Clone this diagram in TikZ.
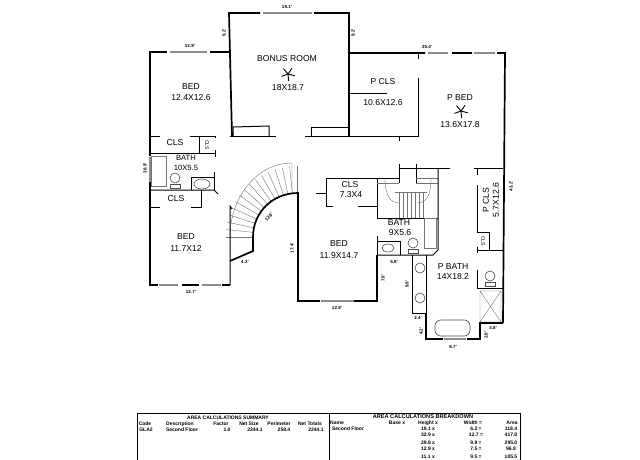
\documentclass[tikz,border=0pt]{standalone}
\usepackage{fontspec}
\setmainfont{Liberation Sans}
\newcommand{\ceilfan}[1]{\foreach \a in {15,85,160,230,305} \draw[fanblade] (#1) -- ++(\a:7);}
\newcommand{\toilet}[1]{\draw[fixture] (#1) circle (5);
  \draw[fixture] ([shift={(-5,6)}]#1) rectangle ([shift={(5,10)}]#1);}
\begin{document}
\begin{tikzpicture}[x=1pt,y=-1pt,
    wall/.style={draw=black,line width=1.7pt},
    thinwall/.style={draw=black,line width=1pt},
    window/.style={draw=black!45,line width=1.9pt},
    stairline/.style={draw=black!55,line width=.4pt},
    fixture/.style={draw=black!70,line width=.6pt},
    fanblade/.style={draw=black,line width=.9pt},
    room/.style={font=\fontsize{8.6}{10}\selectfont,text=black,inner sep=0pt},
    dimlabel/.style={font=\bfseries\fontsize{4.5}{5}\selectfont,inner sep=0pt},
    tabletext/.style={font=\bfseries\fontsize{5}{6}\selectfont,inner sep=0pt},
    tablehead/.style={font=\bfseries\fontsize{5.6}{6}\selectfont,inner sep=0pt}]
  \useasboundingbox (0,0) rectangle (640,460);

  % bonus room
  \draw[wall] (260,13) -- (229,13) -- (232,136);
  \draw[wall] (314,13) -- (349,13) -- (349,136);
  \draw[window] (263,13) -- (312,13);
  \draw[thinwall] (230,136) -- (276,136) (305,136) -- (349,136);
  \draw[thinwall] (233,136) -- (233,127) -- (269,126) -- (269,136);
  \draw[thinwall] (311,136) -- (311,127) -- (349,127);

  % upper left bed
  \draw[wall] (167,52) -- (150,52) -- (150,156) (210,52) -- (230,52);
  \draw[window] (170,52) -- (207,52);
  \draw[window] (150,157) -- (150,182);
  \draw[thinwall] (150,136) -- (160,136) (190,136) -- (215,136) -- (215,138);
  \draw[thinwall] (199,136) -- (199,153);
  \draw[thinwall] (150,153.5) -- (215,153.5) (215,150) -- (215,157);

  % left bath and closets
  \draw[wall] (150,182) -- (150,285) -- (158,285) (182,285) -- (199,285) (222,285) -- (230,285);
  \draw[window] (159,285) -- (178,285) (202,285) -- (221,285);
  \draw[thinwall] (150,190) -- (214,190) -- (218,194);
  \draw[thinwall] (191,190) -- (191,177) -- (214,177);
  \draw[thinwall] (214,172) -- (214,190);
  \draw[thinwall] (201,190) -- (201,207) -- (191,207) (150,207) -- (160,207);
  \draw[stairline] (151,156) rectangle (166,186);
  \toilet{175,178}
  \draw[fixture] (202,184) ellipse (8 and 5);

  % curved stair
  \coordinate (stairc) at (297,237);
  \foreach \a in {180,186,...,270}
    \draw[stairline] ([shift={(\a:44)}]stairc) -- ([shift={(\a:71)}]stairc);
  \draw[stairline] (230,233) .. controls (232,195) and (258,163) .. (292,163) -- (292,193);
  \draw[wall] (230,261) -- (253,251) -- (253,237) .. controls (253,212) and (273,193) .. (298,193) -- (298,301);
  \draw[thinwall] (232,209) -- (230,206) -- (230,285);

  % middle bed
  \draw[wall] (297,301) -- (320,301) (354,301) -- (377,301) -- (377,255);
  \draw[window] (321,301) -- (354,301);
  \draw[thinwall] (316,193) -- (326,193);
  \draw[thinwall] (333,206) -- (326,206) -- (326,178) -- (377,178) -- (377,218) -- (438,218);
  \draw[thinwall] (358,206) -- (377,206) (377,236) -- (377,255);

  % straight stair
  \draw[thinwall] (399,164) -- (399,183) (416.5,164) -- (416.5,183);
  \draw[thinwall] (399,168) -- (450,168) (399,178) -- (377,178);
  \draw[stairline] (416,178) -- (438,178);
  \foreach \x in {399,403,...,423} \draw[stairline] (\x,192) -- (\x,218);
  \draw[stairline] (395,192) -- (427,192) (377,183) -- (399,183) (416,183) -- (438,183);
  \draw[stairline] (385,178) .. controls (385,198) and (392,203) .. (399,203);
  \draw[stairline] (431,178) .. controls (431,198) and (425,203) .. (417,203);

  % small bath
  \draw[thinwall] (377,255) -- (433,255) -- (438,250) -- (438,168);
  \draw[thinwall] (377,241) -- (400,241) -- (400,255);
  \draw[stairline] (424,218) rectangle (436,248);
  \toilet{413,243}
  \draw[fixture] (388,248) ellipse (6 and 4);

  % primary closet and bedroom
  \draw[wall] (349,53) -- (425,53) (452,53) -- (472,53) (497,53) -- (505,53) -- (503,323);
  \draw[window] (428,53) -- (448,53) (474,53) -- (495,53);
  \draw[thinwall] (418,53) -- (418,59) (418,78) -- (418,136) -- (349,136);
  \draw[thinwall] (399,136) -- (399,141);
  \draw[thinwall] (349,93) -- (387,93);
  \draw[thinwall] (474,168) -- (503,168) (477,168) -- (477,175);

  % primary bath
  \draw[thinwall] (477,185) -- (477,232) -- (489,232) -- (489,250);
  \draw[thinwall] (477,247) -- (477,253) (477,250) -- (503,250);
  \draw[thinwall] (477,270) -- (477,288) -- (503,288);
  \draw[thinwall] (412,255) -- (412,313) -- (426,313) (426,255) -- (426,313);
  \draw[wall] (426,313) -- (426,339) -- (443,339) (467,339) -- (480,339) -- (480,323) -- (503,323);
  \draw[window] (444,339) -- (466,339);
  \draw[fixture,rounded corners=6pt] (435,320) rectangle (470,336);
  \draw[fixture] (420,268) circle (5) (420,298) circle (5);
  \toilet{490,276}
  \draw[stairline] (480,291) rectangle (501,322) (480,322) -- (501,291) (480,291) -- (501,322);

  % room names
  \node[room] (bonusname) at (287,59) {BONUS ROOM};
  \ceilfan{288,74}
  \node[room] (bonussize) at (288,88) {18X18.7};
  \node[room] (bedname) at (191,87) {BED};
  \node[room] (bedsize) at (191,98) {12.4X12.6};
  \node[room] (closeta) at (175,143) {CLS};
  \node[room,rotate=-90,font=\fontsize{5}{6}\selectfont] (closetb) at (207,145) {CLS};
  \node[room,font=\fontsize{7.6}{9}\selectfont] (bathaname) at (186,158) {BATH};
  \node[room,font=\fontsize{7.6}{9}\selectfont] (bathasize) at (186,168) {10X5.5};
  \node[room] (closetc) at (176,199) {CLS};
  \node[room] (lowbedname) at (186,237) {BED};
  \node[room] (lowbedsize) at (186,248) {11.7X12};
  \node[room] (closetd) at (350,185) {CLS};
  \node[room] (closetdsize) at (351,195) {7.3X4};
  \node[room] (midbedname) at (339,244) {BED};
  \node[room] (midbedsize) at (339,256) {11.9X14.7};
  \node[room] (bathbname) at (399,223) {BATH};
  \node[room] (bathbsize) at (400,233) {9X5.6};
  \node[room] (pclosetname) at (383,82) {P CLS};
  \node[room] (pclosetsize) at (383,103) {10.6X12.6};
  \node[room] (pbedname) at (460,98) {P BED};
  \ceilfan{461,111}
  \node[room] (pbedsize) at (460,125) {13.6X17.8};
  \node[room,rotate=90] (pcloseta) at (486,200) {P CLS};
  \node[room,rotate=90] (pclosetb) at (496,200) {5.7X12.6};
  \node[room,rotate=-90,font=\fontsize{5}{6}\selectfont] (pclosetc) at (483,241) {CLS};
  \node[room] (pbathname) at (453,267) {P BATH};
  \node[room] (pbathsize) at (453,277) {14X18.2};

  % dimensions
  \node[dimlabel] (dima) at (287,7) {19.1'};
  \node[dimlabel,rotate=90] (dimb) at (224,33) {9.2'};
  \node[dimlabel,rotate=90] (dimc) at (353,33) {9.2'};
  \node[dimlabel] (dimd) at (190,46) {12.9'};
  \node[dimlabel] (dime) at (427,47) {25.4'};
  \node[dimlabel,rotate=90] (dimf) at (511,186) {43.2'};
  \node[dimlabel,rotate=90] (dimg) at (145,168) {38.9'};
  \node[dimlabel,rotate=50] (dimh) at (269,217) {12.8'};
  \node[dimlabel] (dimi) at (245,262) {4.2'};
  \node[dimlabel] (dimj) at (191,292) {12.7'};
  \node[dimlabel,rotate=90] (dimk) at (292,248) {17.4'};
  \node[dimlabel] (diml) at (337,308) {12.8'};
  \node[dimlabel,rotate=90] (dimm) at (383,278) {7.8'};
  \node[dimlabel] (dimn) at (394,262) {5.8'};
  \node[dimlabel,rotate=90] (dimo) at (407,284) {9.9'};
  \node[dimlabel] (dimp) at (418,318) {2.4'};
  \node[dimlabel,rotate=90] (dimq) at (421,331) {4.2'};
  \node[dimlabel] (dimr) at (453,347) {8.7'};
  \node[dimlabel] (dims) at (493,328) {3.8'};
  \node[dimlabel,rotate=90] (dimt) at (486,335) {2.8'};

  % area tables
  \draw[thinwall] (137,460) -- (137,413) -- (520,413) -- (520,460);
  \draw[thinwall] (329,413) -- (329,460);
  \node[tabletext] (suma) at (228,418) {AREA CALCULATIONS SUMMARY};
  \foreach \x/\t in {145/Code,180/Description,221/Factor,249/Net Size,279/Perimeter,310/Net Totals}
    \node[tabletext] at (\x,424) {\t};
  \foreach \x/\t in {146/GLA2,182/Second Floor,227/1.0,255/2244.1,284/258.4,316/2244.1}
    \node[tabletext] at (\x,430) {\t};
  \node[tablehead] (brka) at (423,416.5) {AREA CALCULATIONS BREAKDOWN};
  \foreach \x/\t in {337/Name,397/Base x,428/Height x,473/Width =,512/Area}
    \node[tabletext] at (\x,423) {\t};
  \node[tabletext] (brkb) at (348,429) {Second Floor};
  \foreach \y/\h/\w/\r in {429/19.1/6.2/118.4,435/32.9/12.7/417.8,443/29.8/9.9/295.0,449/12.9/7.5/96.8,457/11.1/9.5/105.5} {
    \node[tabletext] at (428,\y) {\h\ x};
    \node[tabletext] at (476,\y) {\w\ =};
    \node[tabletext] at (511,\y) {\r};
  }
\end{tikzpicture}
\end{document}
